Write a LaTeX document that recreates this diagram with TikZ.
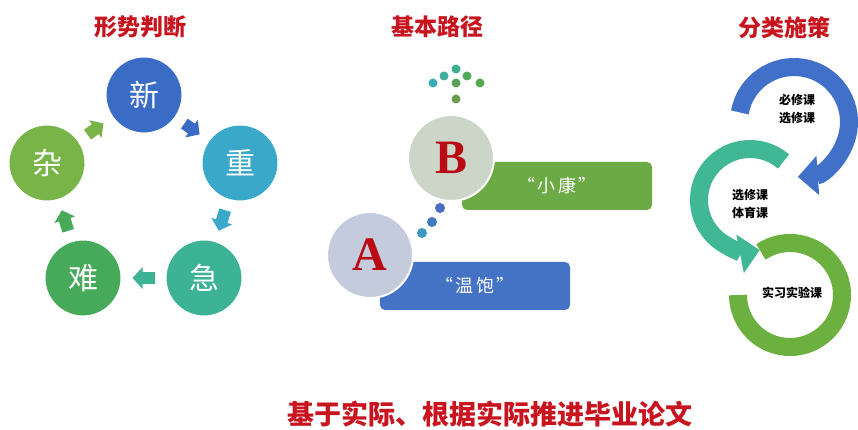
\documentclass[tikz,border=0pt]{standalone}
\usepackage{fontspec}
\setmainfont{Noto Sans CJK SC}
\newfontfamily\abfont{Liberation Serif}
\usetikzlibrary{arrows.meta}
\definecolor{titlered}{RGB}{200,20,30}
\definecolor{cXin}{RGB}{58,108,198}
\definecolor{cZhong}{RGB}{58,168,200}
\definecolor{cJi}{RGB}{60,178,150}
\definecolor{cNan}{RGB}{70,170,90}
\definecolor{cZa}{RGB}{120,180,72}
\definecolor{Bfill}{RGB}{204,214,200}
\definecolor{Afill}{RGB}{196,203,220}
\definecolor{xkGreen}{RGB}{108,170,70}
\definecolor{wbBlue}{RGB}{68,114,196}
\definecolor{ringBlue}{RGB}{64,112,200}
\definecolor{ringTeal}{RGB}{64,184,150}
\definecolor{ringGreen}{RGB}{108,176,64}
\definecolor{abred}{RGB}{185,10,20}
\definecolor{dA}{RGB}{58,172,184}
\definecolor{dB}{RGB}{59,174,158}
\definecolor{dC}{RGB}{59,176,143}
\definecolor{dD}{RGB}{77,170,92}
\definecolor{dE}{RGB}{88,168,78}
\definecolor{dF}{RGB}{90,160,90}
\definecolor{dG}{RGB}{106,156,76}
\definecolor{mA}{RGB}{74,111,192}
\definecolor{mB}{RGB}{67,120,192}
\definecolor{mC}{RGB}{58,154,192}
\begin{document}
\begin{tikzpicture}[x=1pt,y=1pt,
  title/.style={text=titlered, font=\fontsize{23}{23}\selectfont\bfseries, inner sep=0},
  bigc/.style={circle, minimum size=76pt, inner sep=0, text=white, font=\fontsize{30}{30}\selectfont, draw=white, line width=1pt},
  flow/.style={line width=12pt, -{Triangle[width=21pt,length=10pt]}, shorten >=11pt, shorten <=11pt},
  abc/.style={circle, minimum size=86pt, inner sep=0, draw=white, line width=2pt, text=abred, font=\abfont\bfseries\fontsize{48}{48}\selectfont},
  bar/.style={rounded corners=5pt, minimum width=190pt, minimum height=48pt, inner sep=0, text=white, font=\fontsize{18}{18}\selectfont\addfontfeature{LetterSpace=12}},
  ring/.style={line width=18pt},
  ringtip/.style={-{Triangle[width=38pt,length=20pt]}},
  small/.style={font=\fontsize{12}{12}\selectfont\bfseries, inner sep=0, text=black},
  dot/.style={circle, inner sep=0, minimum size=9pt},
  mdot/.style={circle, inner sep=0, minimum size=10pt}]
\useasboundingbox (0,0) rectangle (858,430);
\fill[white] (0,0) rectangle (858,430);

% titles
\node[title] (t1) at (140,403) {形势判断};
\node[title] (t2) at (437,403) {基本路径};
\node[title] (t3) at (784,402) {分类施策};

% left cycle
\node[bigc, fill=cXin] (xin) at (144,335) {新};
\node[bigc, fill=cZhong] (zhong) at (240,267) {重};
\node[bigc, fill=cJi] (ji) at (204,152) {急};
\node[bigc, fill=cNan] (nan) at (83,152) {难};
\node[bigc, fill=cZa] (za) at (47,267) {杂};
\draw[flow, cXin] (xin) -- (zhong);
\draw[flow, cZhong] (zhong) -- (ji);
\draw[flow, cJi] (ji) -- (nan);
\draw[flow, cNan] (nan) -- (za);
\draw[flow, cZa] (za) -- (xin);

% middle
\node[dot, fill=dA] (d1) at (433,347) {};
\node[dot, fill=dB] (d2) at (444,354) {};
\node[dot, fill=dC] (d3) at (456,361) {};
\node[dot, fill=dD] (d4) at (467,354) {};
\node[dot, fill=dE] (d5) at (480,347) {};
\node[dot, fill=dF] (d6) at (456,347) {};
\node[dot, fill=dG] (d7) at (456,331) {};
\node[bar, fill=xkGreen] (xk) at (557,244) {“小康”};
\node[bar, fill=wbBlue] (wb) at (475,144) {“温饱”};
\node[abc, fill=Bfill] (B) at (451,272) {B};
\node[abc, fill=Afill] (A) at (370,175) {A};
\node[mdot, fill=mA] (m1) at (440,222) {};
\node[mdot, fill=mB] (m2) at (432,208) {};
\node[mdot, fill=mC] (m3) at (422,197) {};

% right rings
\draw[ring, ringGreen] ([shift={(124:52)}]790,135) arc[start angle=124, end angle=-180, radius=52];
\draw[ring, ringtip, ringTeal] ([shift={(49:51)}]750,230) arc[start angle=49, end angle=281, radius=51];
\draw[ring, ringtip, ringBlue] ([shift={(170:55)}]794,308) arc[start angle=170, end angle=-86, radius=55];
\node[small] (s1) at (797,330) {必修课};
\node[small] (s2) at (797,312) {选修课};
\node[small] (s3) at (750,235) {选修课};
\node[small] (s4) at (750,217) {体育课};
\node[small] (s5) at (792,137) {实习实验课};

% bottom
\node[text=titlered, font=\fontsize{27}{27}\selectfont\bfseries, inner sep=0] (bt) at (490,16) {基于实际、根据实际推进毕业论文};
\end{tikzpicture}
\end{document}
